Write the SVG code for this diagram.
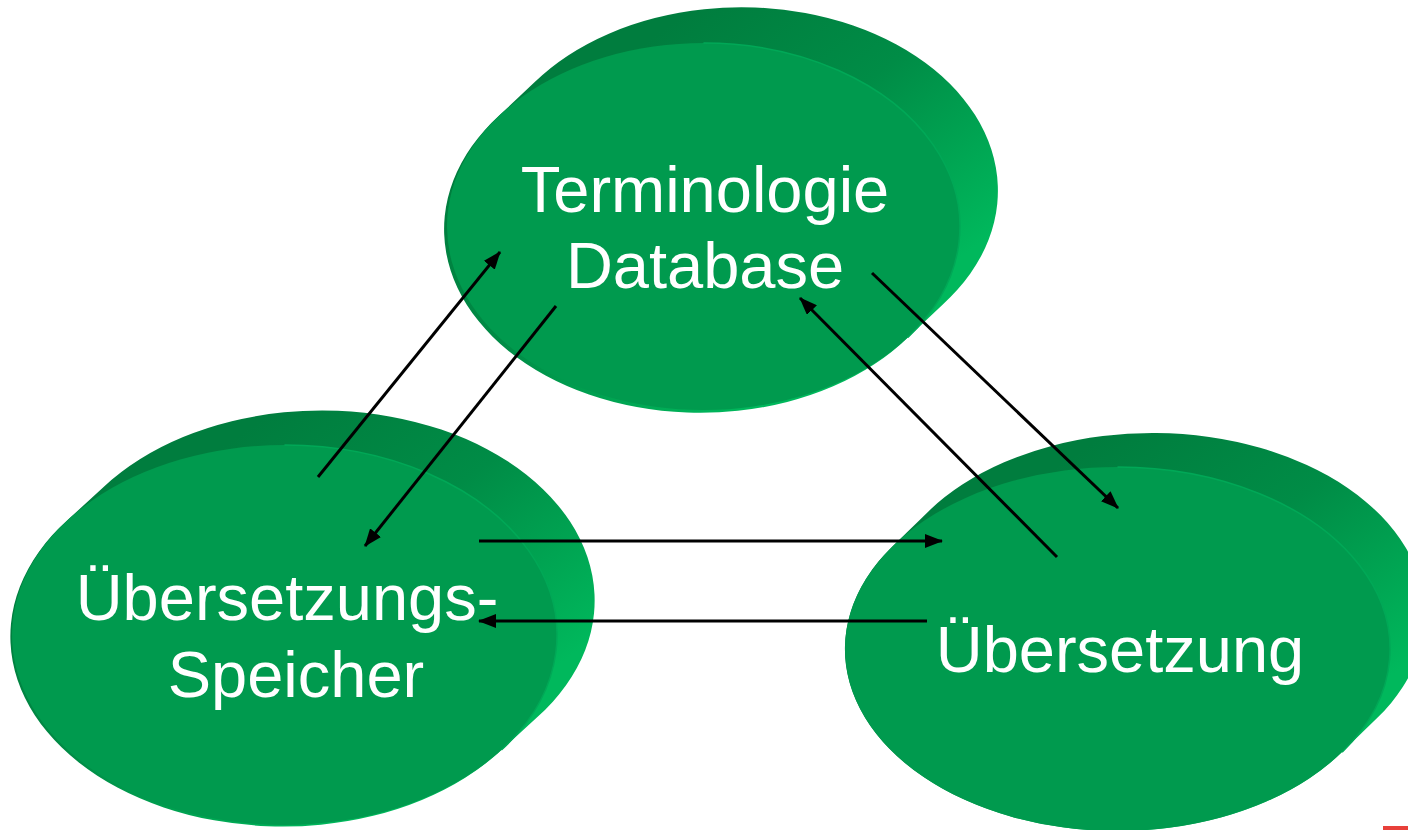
<svg xmlns="http://www.w3.org/2000/svg" width="1408" height="830" viewBox="0 0 1408 830">
  <defs>
    <!-- shading of the disc side (darker on top, lighter on the right) -->
    <linearGradient id="side" x1="0.45" y1="0" x2="1" y2="0.55">
      <stop offset="0" stop-color="#007D3E"/>
      <stop offset="0.45" stop-color="#008C46"/>
      <stop offset="1" stop-color="#00B85C"/>
    </linearGradient>
    <marker id="arrow" markerUnits="userSpaceOnUse" markerWidth="18" markerHeight="14" refX="17" refY="7" orient="auto">
      <path d="M0,0 L18,7 L0,14 Z" fill="#000"/>
    </marker>
    <style>
      .side { fill: url(#side); }
      .face { fill: #009A4E; }
      .rim { fill: none; stroke: #00A857; stroke-width: 1.5; }
      .label { font-family: "Liberation Sans", Arial, sans-serif; font-size: 65px; fill: #fff; text-anchor: middle; }
      .conn line { stroke: #000; stroke-width: 3; marker-end: url(#arrow); }
    </style>
  </defs>

  <rect width="1408" height="830" fill="#fff"/>

  <!-- Terminologie Database -->
  <g id="node-terminologie">
    <path class="side" d="M499.2,115.6 L534.2,82.6 A256.5,183.5 0 1 1 942.8,304.4 L907.8,337.4 A256.5,183.5 0 1 1 499.2,115.6 Z"/>
    <ellipse class="face" cx="703.5" cy="226.5" rx="256.5" ry="183.5"/>
    <path class="rim" d="M703.5,43 A256.5,183.5 0 0 1 907.8,337.4"/>
    <text class="label" x="705" y="212">Terminologie</text>
    <text class="label" x="705" y="288">Database</text>
  </g>

  <!-- Übersetzungs-Speicher -->
  <g id="node-speicher">
    <path class="side" d="M67.6,520 L103.6,487 A272.5,190 0 1 1 537.4,717 L501.4,750 A272.5,190 0 1 1 67.6,520 Z"/>
    <ellipse class="face" cx="284.5" cy="635" rx="272.5" ry="190"/>
    <path class="rim" d="M284.5,445 A272.5,190 0 0 1 501.4,750"/>
    <text class="label" x="287" y="620">Übersetzungs-</text>
    <text class="label" x="296" y="697">Speicher</text>
  </g>

  <!-- Übersetzung -->
  <g id="node-uebersetzung">
    <path class="side" d="M892.9,545.9 L927.9,511.9 A272.5,182 0 1 1 1377.1,718.1 L1342.1,752.1 A272.5,182 0 1 1 892.9,545.9 Z"/>
    <ellipse class="face" cx="1117.5" cy="649" rx="272.5" ry="182"/>
    <path class="rim" d="M1117.5,467 A272.5,182 0 0 1 1342.1,752.1"/>
    <text class="label" x="1120" y="672">Übersetzung</text>
  </g>

  <!-- connectors -->
  <g id="connectors" class="conn">
    <line x1="318" y1="477" x2="500" y2="252"/>
    <line x1="556" y1="306" x2="365" y2="546"/>
    <line x1="872" y1="273" x2="1118" y2="508"/>
    <line x1="1057" y1="557" x2="800" y2="298"/>
    <line x1="479" y1="541" x2="942" y2="541"/>
    <line x1="927" y1="621" x2="479" y2="621"/>
  </g>

  <rect x="1383" y="826" width="25" height="4" fill="#E8403A"/>
</svg>
